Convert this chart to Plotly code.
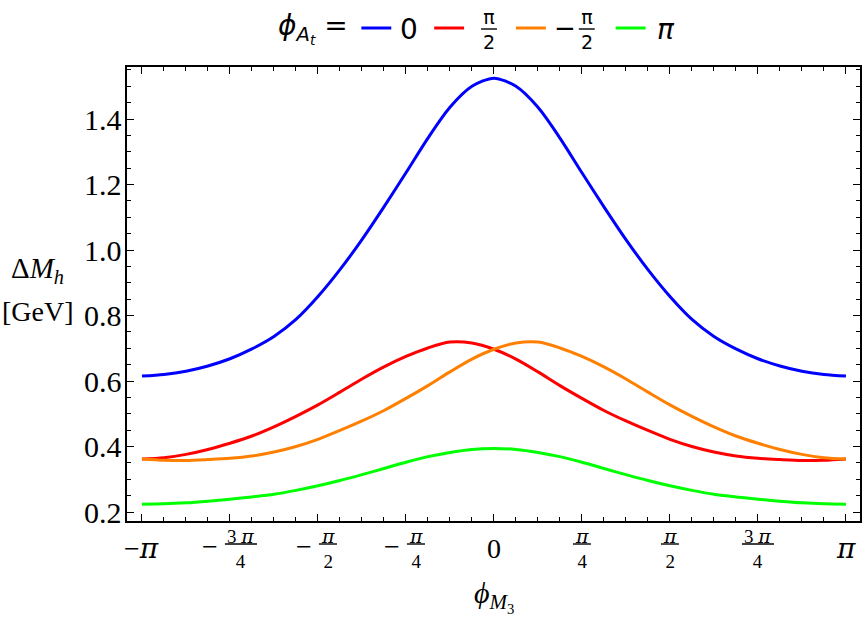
import numpy as np
import plotly.graph_objects as go

pi = np.pi

# sampling grid in units of pi/16
k_sixteenths = [-16, -15, -14, -13, -12, -11, -10, -9, -8, -7, -6, -5, -4, -3, -2, -1, 0,
                1, 2, 3, 4, 5, 6, 7, 8, 9, 10, 11, 12, 13, 14, 15, 16]
phi_M3 = [k * pi / 16 for k in k_sixteenths]

dM_phiAt_0 = [0.615, 0.620, 0.630, 0.646, 0.668, 0.698, 0.736, 0.788, 0.858, 0.940, 1.032,
              1.132, 1.236, 1.342, 1.436, 1.500, 1.525, 1.500, 1.436, 1.342, 1.236, 1.132,
              1.032, 0.940, 0.858, 0.788, 0.736, 0.698, 0.668, 0.646, 0.630, 0.620, 0.615]
dM_phiAt_pi2 = [0.362, 0.366, 0.376, 0.391, 0.410, 0.432, 0.460, 0.492, 0.527, 0.566, 0.606,
                0.643, 0.675, 0.701, 0.719, 0.716, 0.697, 0.667, 0.628, 0.586, 0.547, 0.510,
                0.478, 0.449, 0.422, 0.400, 0.383, 0.371, 0.364, 0.360, 0.357, 0.358, 0.362]
dM_phiAt_mpi2 = [0.362, 0.358, 0.357, 0.360, 0.364, 0.371, 0.383, 0.400, 0.422, 0.449, 0.478,
                 0.510, 0.547, 0.586, 0.628, 0.667, 0.697, 0.716, 0.719, 0.701, 0.675, 0.643,
                 0.606, 0.566, 0.527, 0.492, 0.460, 0.432, 0.410, 0.391, 0.376, 0.366, 0.362]
dM_phiAt_pi = [0.224, 0.225, 0.228, 0.233, 0.239, 0.246, 0.254, 0.266, 0.280, 0.296, 0.314,
               0.333, 0.352, 0.369, 0.382, 0.391, 0.394, 0.391, 0.382, 0.369, 0.352, 0.333,
               0.314, 0.296, 0.280, 0.266, 0.254, 0.246, 0.239, 0.233, 0.228, 0.225, 0.224]

series_names = ["0", "π/2", "−π/2", "π"]
series_colors = ["#0000ff", "#ff0000", "#ff8000", "#00ff00"]
series_values = [dM_phiAt_0, dM_phiAt_pi2, dM_phiAt_mpi2, dM_phiAt_pi]

x_major = [-pi, -3 * pi / 4, -pi / 2, -pi / 4, 0, pi / 4, pi / 2, 3 * pi / 4, pi]
x_minor = [k * pi / 16 for k in k_sixteenths]
y_major = [0.2, 0.4, 0.6, 0.8, 1.0, 1.2, 1.4]
y_major_text = ["0.2", "0.4", "0.6", "0.8", "1.0", "1.2", "1.4"]
y_minor = [0.2 + 0.05 * i for i in range(28)]

SERIF = "Liberation Serif"
SANS = "DejaVu Sans"

# plot-area geometry (pixels)
ML, MR, MT, MB = 127, 3, 67, 96
W, H = 865, 617
PW, PH = W - ML - MR, H - MT - MB


def px_x(px):
    return (px - ML) / PW


def px_y(py):
    return (H - MB - py) / PH


fig = go.Figure()
for nm, vals, col in zip(series_names, series_values, series_colors):
    fig.add_trace(go.Scatter(x=phi_M3, y=vals, mode="lines", name=nm,
                             line=dict(color=col, width=3, shape="spline", smoothing=0.8),
                             showlegend=False))

fig.update_layout(
    width=W, height=H,
    margin=dict(l=ML, r=MR, t=MT, b=MB),
    paper_bgcolor="white", plot_bgcolor="white",
    showlegend=False,
)

axis_common = dict(showgrid=False, zeroline=False, showline=True, linecolor="black",
                   linewidth=1.5, mirror="allticks", ticks="inside", ticklen=7,
                   tickwidth=1.3, tickcolor="black", showticklabels=False)

fig.update_xaxes(range=[-3.275, 3.267], tickmode="array", tickvals=x_major,
                 minor=dict(tickmode="array", tickvals=x_minor, ticks="inside",
                            ticklen=4, tickwidth=1, tickcolor="black", showgrid=False),
                 **axis_common)
fig.update_yaxes(range=[0.1725, 1.559], tickmode="array", tickvals=y_major,
                 minor=dict(tickmode="array", tickvals=y_minor, ticks="inside",
                            ticklen=4, tickwidth=1, tickcolor="black", showgrid=False),
                 **axis_common)

# y tick labels
for yv, yt in zip(y_major, y_major_text):
    fig.add_annotation(x=0, xref="paper", xanchor="right", xshift=-3, y=yv, yref="y",
                       yanchor="middle", text=yt, showarrow=False,
                       font=dict(family=SERIF, size=30, color="black"))

# x tick labels: (value, numerator, denominator, leading minus, single text)
PI_SPAN = "<span style='font-family:DejaVu Serif'><i>π</i></span>"
x_labels = [
    (-pi, None, None, False, "−" + PI_SPAN),
    (-3 * pi / 4, "3 " + PI_SPAN, "4", True, None),
    (-pi / 2, PI_SPAN, "2", True, None),
    (-pi / 4, PI_SPAN, "4", True, None),
    (0, None, None, False, "0"),
    (pi / 4, PI_SPAN, "4", False, None),
    (pi / 2, PI_SPAN, "2", False, None),
    (3 * pi / 4, "3 " + PI_SPAN, "4", False, None),
    (pi, None, None, False, PI_SPAN),
]
for xv, num, den, neg, single in x_labels:
    if single is not None:
        fig.add_annotation(x=xv, xref="x", y=0, yref="paper", text=single, showarrow=False,
                           xanchor="center", yanchor="middle", yshift=-27,
                           font=dict(family=SERIF, size=28, color="black"))
        continue
    wide = num.startswith("3")
    shift = (11 if wide else 10) if neg else 0
    half = 16 if wide else 9
    fig.add_annotation(x=xv, xref="x", y=0, yref="paper", text=num + "<br>" + den,
                       showarrow=False, xanchor="center", yanchor="middle", yshift=-27,
                       xshift=shift, font=dict(family=SERIF, size=19, color="black"))
    fig.add_shape(type="line", xref="x", xsizemode="pixel", xanchor=xv,
                  x0=shift - half, x1=shift + half,
                  yref="paper", ysizemode="pixel", yanchor=0, y0=-23, y1=-23,
                  line=dict(color="black", width=1.4))
    if neg:
        fig.add_annotation(x=xv, xref="x", y=0, yref="paper", text="−",
                           showarrow=False, xanchor="center", yanchor="middle",
                           yshift=-25, xshift=-20 if wide else -14,
                           font=dict(family=SERIF, size=28, color="black"))

# axis titles
fig.add_annotation(x=0, xref="x", y=0, yref="paper", yshift=-75, yanchor="middle",
                   xanchor="center", showarrow=False,
                   text="<i>ϕ</i><sub><i>M</i><sub>3</sub></sub>",
                   font=dict(family=SERIF, size=30, color="black"))
fig.add_annotation(x=0, xref="paper", xanchor="center", xshift=-90, y=0, yref="paper",
                   yanchor="middle", yshift=251,
                   showarrow=False, text="Δ<i>M</i><sub><i>h</i></sub>",
                   font=dict(family=SERIF, size=29, color="black"))
fig.add_annotation(x=0, xref="paper", xanchor="center", xshift=-89, y=0, yref="paper",
                   yanchor="middle", yshift=210,
                   showarrow=False, text="[GeV]",
                   font=dict(family=SERIF, size=28, color="black"))

# legend (drawn by hand above the frame)
LEG_Y = 28
fig.add_annotation(x=px_x(276), xref="paper", xanchor="left", y=px_y(LEG_Y), yref="paper",
                   yanchor="middle", showarrow=False,
                   text="<i>ϕ</i><sub><i>A</i><sub><i>t</i></sub></sub> =",
                   font=dict(family=SANS, size=28, color="black"))
legend_key_start = [362, 435, 517, 617]
legend_label_center = [410, 490, 588, 667]
legend_label_text = ["0", "π<br>2", "π<br>2", "<i>π</i>"]
legend_label_size = [28, 19, 19, 28]
legend_is_frac = [False, True, True, False]
for x0, xc, txt, fs, frac, col in zip(legend_key_start, legend_label_center,
                                      legend_label_text, legend_label_size,
                                      legend_is_frac, series_colors):
    fig.add_shape(type="line", xref="paper", yref="paper", x0=px_x(x0), x1=px_x(x0 + 30),
                  y0=px_y(LEG_Y), y1=px_y(LEG_Y), line=dict(color=col, width=3))
    fig.add_annotation(x=px_x(xc), xref="paper", xanchor="center", y=px_y(LEG_Y + 2),
                       yref="paper", yanchor="middle", showarrow=False, text=txt,
                       font=dict(family=SANS, size=fs, color="black"))
    if frac:
        fig.add_shape(type="line", xref="paper", yref="paper", x0=px_x(xc - 8),
                      x1=px_x(xc + 8), y0=px_y(LEG_Y + 1), y1=px_y(LEG_Y + 1),
                      line=dict(color="black", width=1.4))
fig.add_annotation(x=px_x(566), xref="paper", xanchor="center", y=px_y(LEG_Y), yref="paper",
                   yanchor="middle", showarrow=False, text="−",
                   font=dict(family=SANS, size=26, color="black"))

fig.write_html("out.html")
